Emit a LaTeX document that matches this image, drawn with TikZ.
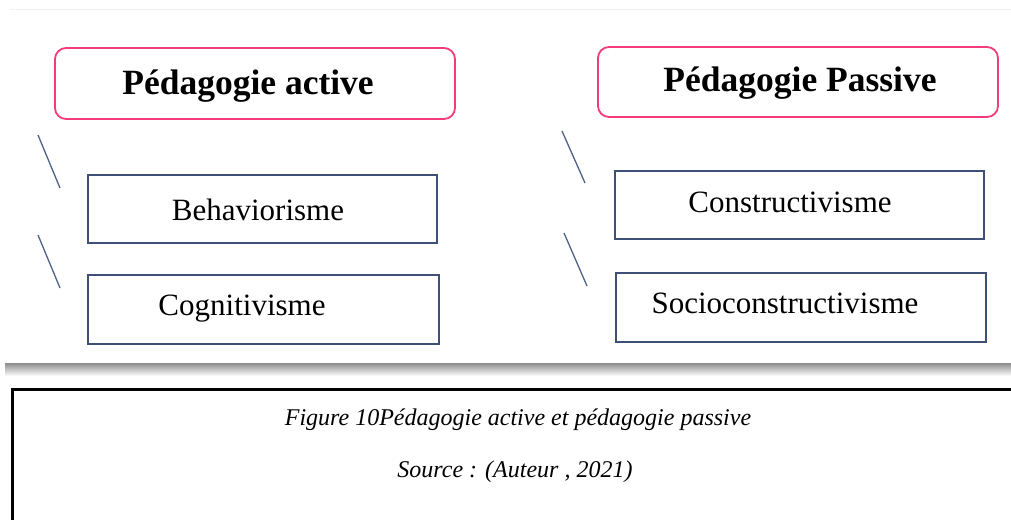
\documentclass[tikz,border=0pt]{standalone}
\usepackage{fontspec}
\setmainfont{Liberation Serif}
\definecolor{pinkline}{RGB}{245,60,122}
\definecolor{boxline}{RGB}{62,80,118}
\definecolor{slashline}{RGB}{80,98,135}
\tikzset{
  titlebox/.style={draw=pinkline, line width=1.8pt, rounded corners=11pt, inner sep=0pt},
  itembox/.style={draw=boxline, line width=1.5pt, inner sep=0pt},
  titletext/.style={anchor=base, inner sep=0pt, font=\fontsize{35.5}{40}\selectfont\bfseries},
  itemtext/.style={anchor=base, inner sep=0pt, font=\fontsize{31}{36}\selectfont},
  captext/.style={anchor=base, inner sep=0pt, font=\fontsize{24}{28}\selectfont\itshape},
  slash/.style={draw=slashline, line width=1.3pt}
}
\begin{document}
\begin{tikzpicture}[x=1pt,y=-1pt]
\useasboundingbox (0,0) rectangle (1011,519);
\fill[white] (0,0) rectangle (1011,519);
% faint top edge of the screenshot
\draw[black!6, line width=1pt] (10,10) -- (1011,10);
% bottom shadow of the screenshot
\shade[top color=black!45, bottom color=white] (5,363) rectangle (1011,376);

% left column
\node[titlebox, minimum width=400pt, minimum height=71pt] (ta) at (255,83.5) {};
\node[titletext] (tatext) at (248,94) {Pédagogie active};
\node[itembox, minimum width=349pt, minimum height=68pt] (b1) at (262.5,209) {};
\node[itemtext] (b1text) at (258,220) {Behaviorisme};
\node[itembox, minimum width=351pt, minimum height=69pt] (b2) at (263.5,309.5) {};
\node[itemtext] (b2text) at (242,315) {Cognitivisme};
\coordinate (s1a) at (38,135); \coordinate (s1b) at (60,188);
\coordinate (s2a) at (38,235); \coordinate (s2b) at (60,288);
\draw[slash] (s1a) -- (s1b);
\draw[slash] (s2a) -- (s2b);

% right column
\node[titlebox, minimum width=400pt, minimum height=70pt] (tp) at (798,82) {};
\node[titletext] (tptext) at (800,92) {Pédagogie Passive};
\node[itembox, minimum width=369pt, minimum height=68pt] (c1) at (799.5,205) {};
\node[itemtext] (c1text) at (790,212) {Constructivisme};
\node[itembox, minimum width=370pt, minimum height=69pt] (c2) at (801,307.5) {};
\node[itemtext] (c2text) at (785,313) {Socioconstructivisme};
\coordinate (s3a) at (562,131); \coordinate (s3b) at (585,183);
\coordinate (s4a) at (564,233); \coordinate (s4b) at (587,286);
\draw[slash] (s3a) -- (s3b);
\draw[slash] (s4a) -- (s4b);

% caption frame
\draw[black, line width=2.8pt] (12.5,530) -- (12.5,389.5) -- (1020,389.5);
\node[captext] (cap1) at (518,425) {Figure 10Pédagogie active et pédagogie passive};
\node[captext] (cap2) at (515,477) {Source : (Auteur , 2021)};
\end{tikzpicture}
\end{document}
